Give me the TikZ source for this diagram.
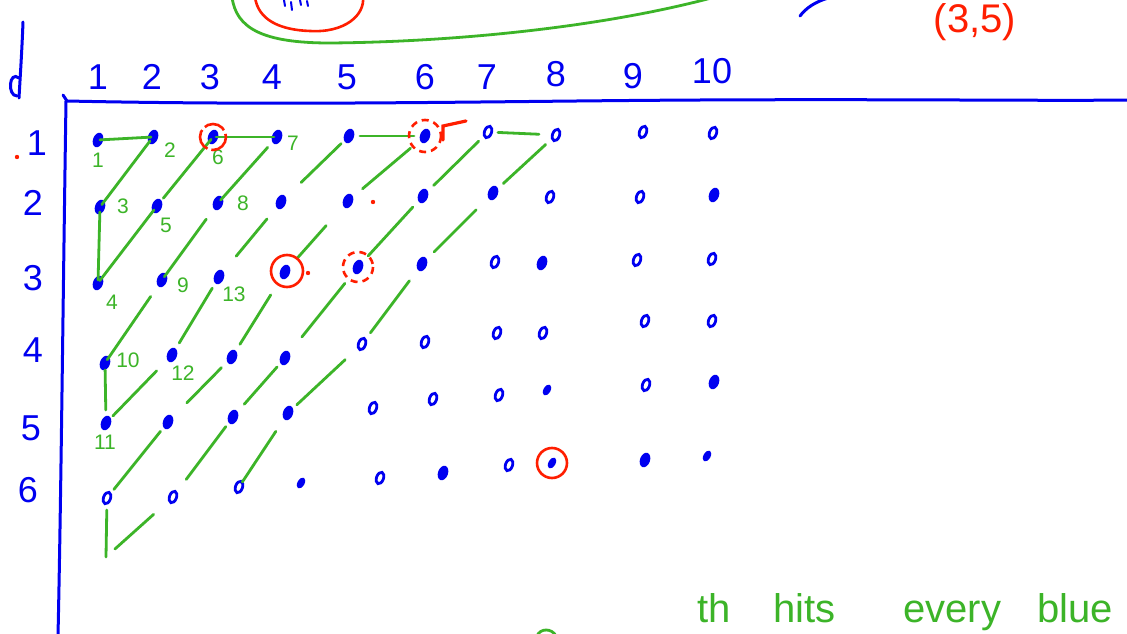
\documentclass[tikz,border=0pt]{standalone}
\usepackage{fontspec}
\setmainfont{Liberation Sans}
\usetikzlibrary{shapes.geometric}
\definecolor{pblue}{RGB}{0,0,240}
\definecolor{pgreen}{RGB}{60,180,40}
\definecolor{pred}{RGB}{255,30,0}
\newcommand\gseg[4]{\draw[gl,shorten <=#3pt,shorten >=#4pt] (#1.center) -- (#2.center);}
\begin{document}
\begin{tikzpicture}[x=1pt,y=-1pt,
  dotf/.style={ellipse,fill=pblue,minimum width=10pt,minimum height=15pt,inner sep=0pt,rotate=-20},
  dots/.style={ellipse,fill=pblue,minimum width=7pt,minimum height=12pt,inner sep=0pt,rotate=-30},
  doto/.style={ellipse,draw=pblue,line width=2.8pt,minimum width=7pt,minimum height=12pt,inner sep=0pt,rotate=-20},
  gl/.style={pgreen,line width=2.8pt,line cap=round},
  bl/.style={pblue,line width=3pt,line cap=round},
  hdr/.style={text=pblue,font=\fontsize{36}{36}\selectfont},
  glab/.style={text=pgreen,font=\fontsize{21}{21}\selectfont},
  gtext/.style={text=pgreen,font=\fontsize{40}{40}\selectfont,anchor=base west,inner sep=0pt},
  rc/.style={pred,line width=2.6pt},
  rcd/.style={pred,line width=2.6pt,dash pattern=on 7pt off 5pt},
]
\useasboundingbox (0,0) rectangle (1127,634);
\fill[white] (0,0) rectangle (1127,634);

% top fragments
\draw[gl] (232,-3) .. controls (236,28) and (262,43) .. (330,43) .. controls (450,42) and (600,28) .. (715,-3);
\draw[rc] (255,-3) .. controls (258,20) and (280,30) .. (310,31) .. controls (345,33) and (365,15) .. (363,-3);
\draw[pblue,line width=2pt,line cap=round] (284,0) -- (285,6) (291,2) -- (292,10) (300,0) -- (301,5) (307,1) -- (308,6);
\draw[bl] (800,16) .. controls (806,8) and (815,2) .. (828,-2);
\node[text=pred,font=\fontsize{40}{40}\selectfont] (pair) at (975,22) {(3,5)};

% the "d"
\draw[bl] (23,22) .. controls (22,50) and (20,80) .. (19,98);
\draw[bl] (19,78) .. controls (9,70) and (7,96) .. (17,96);

% frame
\draw[bl] (63,95) -- (67,101) .. controls (300,106) and (500,101) .. (700,100) .. controls (900,99) and (1050,101) .. (1127,100);
\draw[bl] (66,101) .. controls (63,300) and (61,500) .. (58,636);

% column headers
\foreach \c/\x/\y in {1/98/77,2/152/77,3/210/77,4/272/77,5/347/77,6/425/77,7/487/77,8/556/74,9/633/76,10/712/71}
  \node[hdr] (col\c) at (\x,\y) {\c};
% row labels
\foreach \r/\x/\y in {1/37/143,2/33/203,3/33/278,4/33/350,5/31/428,6/28/490}
  \node[hdr] (row\r) at (\x,\y) {\r};

% dots
\foreach \r/\c/\x/\y/\s in {
 1/1/98/140/dotf,1/2/153/137/dotf,1/3/213/137/dotf,1/4/277/137/dotf,1/5/349/136/dotf,1/6/425/136/dotf,1/7/488/132/doto,1/8/556/135/doto,1/9/643/132/doto,1/10/713/133/doto,
 2/1/100/207/dotf,2/2/157/206/dotf,2/3/218/203/dotf,2/4/281/202/dotf,2/5/348/201/dotf,2/6/423/196/dotf,2/7/493/193/dotf,2/8/550/197/doto,2/9/640/197/doto,2/10/714/195/dotf,
 3/1/98/283/dotf,3/2/162/280/dotf,3/3/219/277/dotf,3/4/285/272/dotf,3/5/358/267/dotf,3/6/422/264/dotf,3/7/495/262/doto,3/8/542/263/dotf,3/9/637/260/doto,3/10/712/259/doto,
 4/1/105/363/dotf,4/2/172/355/dotf,4/3/232/357/dotf,4/4/285/358/dotf,4/5/362/344/doto,4/6/425/342/doto,4/7/497/333/doto,4/8/543/333/doto,4/9/645/321/doto,4/10/712/321/doto,
 5/1/106/423/dotf,5/2/168/422/dotf,5/3/233/417/dotf,5/4/288/413/dotf,5/5/373/408/doto,5/6/433/399/doto,5/7/499/395/doto,5/8/547/390/dots,5/9/646/385/doto,5/10/714/382/dotf,
 6/1/107/498/doto,6/2/173/497/doto,6/3/239/487/doto,6/4/301/483/dots,6/5/380/478/doto,6/6/443/473/dotf,6/7/509/465/doto,6/8/552/463/dots,6/9/645/460/dotf,6/10/707/456/dots}
  \node[\s] (d-\r-\c) at (\x,\y) {};
\coordinate (c71) at (106,557);

% zig-zag path
\gseg{d-1-1}{d-1-2}{2}{2}
\gseg{d-1-2}{d-2-1}{5}{3}
\gseg{d-2-1}{d-3-1}{5}{3}
\gseg{d-3-1}{d-2-2}{3}{5}
\gseg{d-2-2}{d-1-3}{10}{3}
\gseg{d-1-3}{d-1-4}{3}{3}
\gseg{d-1-4}{d-2-3}{14}{4}
\gseg{d-2-3}{d-3-2}{20}{4}
\gseg{d-3-2}{d-4-1}{20}{4}
\gseg{d-4-1}{d-5-1}{7}{13}
\gseg{d-5-1}{d-4-2}{10}{22}
\gseg{d-4-2}{d-3-3}{14}{13}
\gseg{d-3-3}{d-2-4}{27}{22}
\gseg{d-2-4}{d-1-5}{28}{11}
\gseg{d-1-5}{d-1-6}{11}{11}
\gseg{d-1-6}{d-2-5}{19}{19}
\gseg{d-2-5}{d-3-4}{33}{19}
\gseg{d-3-4}{d-4-3}{27}{15}
\gseg{d-4-3}{d-5-2}{15}{27}
\gseg{d-5-2}{d-6-1}{12}{11}
\gseg{d-6-1}{c71}{12}{0}
\gseg{c71}{d-6-2}{12}{26}
\gseg{d-6-2}{d-5-3}{22}{12}
\gseg{d-5-3}{d-4-4}{17}{12}
\gseg{d-4-4}{d-3-5}{27}{21}
\gseg{d-3-5}{d-2-6}{15}{15}
\gseg{d-2-6}{d-1-7}{15}{13}
\gseg{d-1-7}{d-1-8}{10}{17}
\gseg{d-1-8}{d-2-7}{14}{14}
\gseg{d-2-7}{d-3-6}{24}{17}
\gseg{d-3-6}{d-4-5}{21}{14}
\gseg{d-4-5}{d-5-4}{23}{12}
\gseg{d-5-4}{d-6-3}{22}{6}

% green step labels
\foreach \t/\x/\y in {1/98/160,2/170/150,3/123/206,4/112/302,5/166/225,6/218/157,7/293/143,8/243/203,9/183/285,10/128/360,11/105/442,12/183/373,13/234/294}
  \node[glab] (lab\t) at (\x,\y) {\t};

% red marks
\draw[rc,dash pattern=on 22pt off 4pt] (d-1-3.center) circle[radius=13];
\draw[rcd] (d-1-6.center) circle[radius=16];
\draw[pred,line width=3.2pt,line cap=round] (443,140) -- (443,126) -- (466,121);
\draw[rc] (287,271) circle[radius=16];
\draw[rcd] (d-3-5.center) circle[radius=15];
\draw[rc] (d-6-8.center) circle[radius=15];
\fill[pred] (308,273) circle[radius=2.2];
\fill[pred] (373,202) circle[radius=2.2];
\fill[pred] (17,157) circle[radius=2.2];

% bottom handwriting fragment
\draw[gl] (537,636) .. controls (540,628) and (552,628) .. (556,636);
\node[gtext] (w1) at (697,622) {th};
\node[gtext] (w2) at (773,622) {hits};
\node[gtext] (w3) at (903,622) {every};
\node[gtext] (w4) at (1037,622) {blue};
\end{tikzpicture}
\end{document}
